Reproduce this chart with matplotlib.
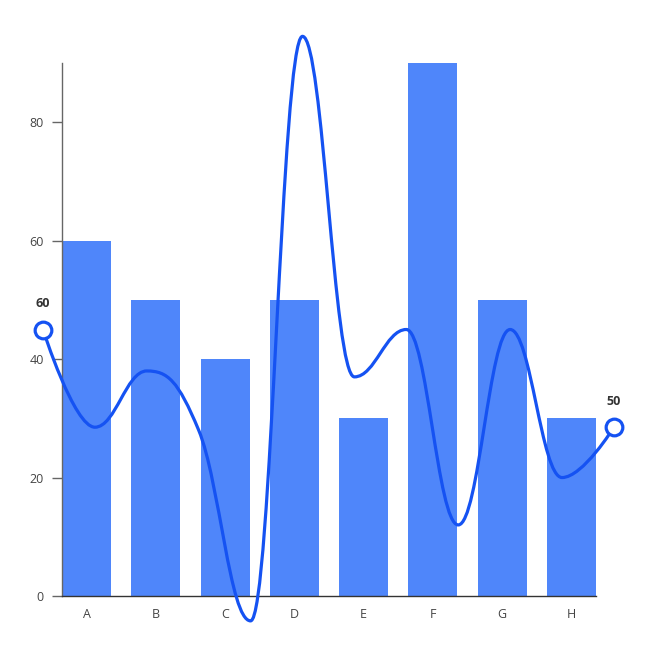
import matplotlib.pyplot as plt
import numpy as np
from matplotlib.path import Path
from matplotlib.patches import PathPatch

plt.rcParams['font.family'] = ['Open Sans', 'DejaVu Sans']

# Data
categories = ["A", "B", "C", "D", "E", "F", "G", "H"]
bar_values = [60, 50, 40, 50, 30, 90, 50, 30]
line_values = [45, 28.5, 38, 28, -4.2, 94.5, 37, 45, 12, 45, 20, 28.5]
end_labels = ["60", "50"]
y_ticks = [0, 20, 40, 60, 80]

BAR_COLOR = "#4f86fa"
LINE_COLOR = "#1552f2"


def spline_path(px, py, smoothing=1.5):
    # highcharts-style spline: control points kept between neighbours
    n = len(px)
    denom = smoothing + 1
    left = [None] * n
    right = [None] * n
    for i in range(1, n - 1):
        x, y = px[i], py[i]
        lx, ly = px[i - 1], py[i - 1]
        nx, ny = px[i + 1], py[i + 1]
        lcx = (smoothing * x + lx) / denom
        lcy = (smoothing * y + ly) / denom
        rcx = (smoothing * x + nx) / denom
        rcy = (smoothing * y + ny) / denom
        corr = (rcy - lcy) * (rcx - x) / (rcx - lcx) + y - rcy
        lcy += corr
        rcy += corr
        if lcy > ly and lcy > y:
            lcy = max(ly, y)
            rcy = 2 * y - lcy
        elif lcy < ly and lcy < y:
            lcy = min(ly, y)
            rcy = 2 * y - lcy
        if rcy > ny and rcy > y:
            rcy = max(ny, y)
            lcy = 2 * y - rcy
        elif rcy < ny and rcy < y:
            rcy = min(ny, y)
            lcy = 2 * y - rcy
        left[i] = (lcx, lcy)
        right[i] = (rcx, rcy)
    verts = [(px[0], py[0])]
    codes = [Path.MOVETO]
    for i in range(1, n):
        c0 = right[i - 1] or (px[i - 1], py[i - 1])
        c1 = left[i] or (px[i], py[i])
        verts += [c0, c1, (px[i], py[i])]
        codes += [Path.CURVE4] * 3
    return Path(verts, codes)


fig = plt.figure(figsize=(6.55, 6.62), dpi=100)
ax = fig.add_axes([62 / 655, 66 / 662, 534 / 655, 533 / 662])

x = np.arange(len(categories))
bar_w = 0.707
ax.bar(x, bar_values, width=bar_w, color=BAR_COLOR, zorder=2)
ax.set_xlim(-bar_w / 2, len(categories) - 1 + bar_w / 2)
ax.set_ylim(0, 90)

# line series spans past the plot area on both sides
line_x = np.linspace(-0.628, 7.612, len(line_values))
ax.add_patch(PathPatch(spline_path(line_x, line_values), fill=False,
                       edgecolor=LINE_COLOR, lw=2.3, clip_on=False, zorder=3,
                       capstyle='round', joinstyle='round'))
ends_x = [line_x[0], line_x[-1]]
ends_y = [line_values[0], line_values[-1]]
ax.plot(ends_x, ends_y, linestyle='none', marker='o', markersize=12,
        markerfacecolor='white', markeredgecolor=LINE_COLOR, markeredgewidth=2.3,
        clip_on=False, zorder=4)
for ex, ey, lab in zip(ends_x, ends_y, end_labels):
    ax.annotate(lab, (ex, ey), xytext=(0, 14), textcoords='offset points',
                ha='center', va='bottom', fontsize=9, fontweight='bold',
                color='#333333', annotation_clip=False)

ax.set_xticks(x)
ax.set_xticklabels(categories)
ax.set_yticks(y_ticks)
ax.tick_params(axis='x', length=0, pad=9, labelsize=9, labelcolor='#444444')
ax.tick_params(axis='y', length=7, width=1, color='#666666', pad=6,
               labelsize=9, labelcolor='#444444')
for s in ['top', 'right']:
    ax.spines[s].set_visible(False)
ax.spines['left'].set_color('#666666')
ax.spines['bottom'].set_color('#333333')
ax.spines['left'].set_linewidth(1)
ax.spines['bottom'].set_linewidth(1)

fig.savefig("out.png", dpi=100)
